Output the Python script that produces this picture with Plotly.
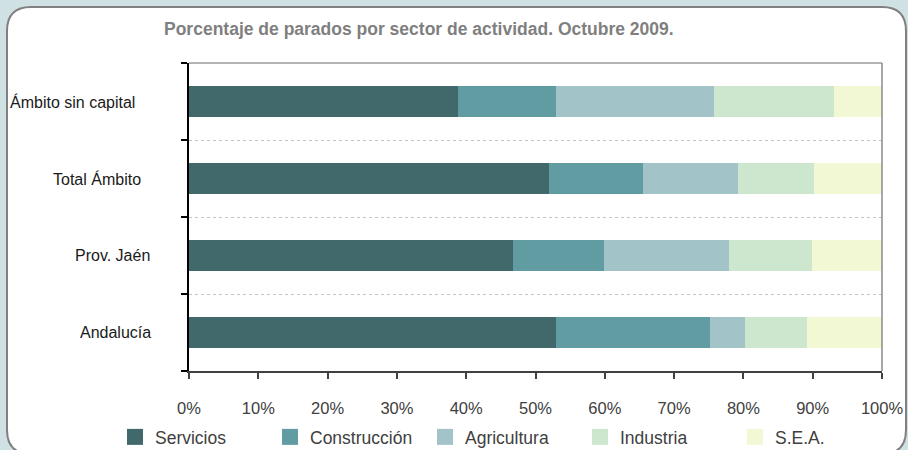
import plotly.graph_objects as go

categories = ["Andalucía", "Prov. Jaén", "Total Ámbito", "Ámbito sin capital"]
series_names = ["Servicios", "Construcción", "Agricultura", "Industria", "S.E.A."]
servicios = [53.0, 46.8, 51.9, 38.8]
construccion = [22.2, 13.1, 13.6, 14.2]
agricultura = [5.0, 18.0, 13.7, 22.8]
industria = [9.0, 12.0, 11.0, 17.3]
sea = [10.8, 10.1, 9.8, 6.9]
x_ticks = [0, 10, 20, 30, 40, 50, 60, 70, 80, 90, 100]
x_tick_labels = ["0%", "10%", "20%", "30%", "40%", "50%", "60%", "70%", "80%", "90%", "100%"]

colors = ["#41696C", "#619CA3", "#A2C4C8", "#CDE6CE", "#F2F8D4"]
series_values = [servicios, construccion, agricultura, industria, sea]

W, H = 908, 450
ML, MR, MT, MB = 189, 26, 63, 79
PW, PH = W - ML - MR, H - MT - MB

def px(x):
    return (x - ML) / PW

def py(y):
    return (H - MB - y) / PH

FONT = "Liberation Sans, Arial, sans-serif"

fig = go.Figure()
for name, vals, col in zip(series_names, series_values, colors):
    fig.add_trace(go.Bar(
        y=categories, x=vals, name=name, orientation="h",
        marker=dict(color=col, line=dict(width=0)),
        hoverinfo="x+y+name", legendgroup=name, showlegend=False,
    ))
# legend entries with larger square keys
for name, col in zip(series_names, colors):
    fig.add_trace(go.Scatter(
        x=[None], y=[None], mode="markers", name=name, legendgroup=name,
        marker=dict(symbol="square", size=16, color=col, line=dict(width=0)),
        showlegend=True, hoverinfo="skip",
    ))

# panel with rounded corners
r = 24
L, T, R, B = 7, 7, 906, 454
path = (
    f"M {px(L)},{py(T + r)} "
    f"Q {px(L)},{py(T)} {px(L + r)},{py(T)} "
    f"L {px(R - r)},{py(T)} "
    f"Q {px(R)},{py(T)} {px(R)},{py(T + r)} "
    f"L {px(R)},{py(B - r)} "
    f"Q {px(R)},{py(B)} {px(R - r)},{py(B)} "
    f"L {px(L + r)},{py(B)} "
    f"Q {px(L)},{py(B)} {px(L)},{py(B - r)} Z"
)
shapes = [
    dict(type="path", path=path, xref="paper", yref="paper",
         fillcolor="white", line=dict(color="#808080", width=2), layer="below"),
    dict(type="line", xref="paper", yref="paper", x0=0, x1=1, y0=1, y1=1,
         line=dict(color="#9a9a9a", width=1.5)),
    dict(type="line", xref="paper", yref="paper", x0=1, x1=1, y0=0, y1=1,
         line=dict(color="#8a8a8a", width=1.5)),
]

label_right_px = [153, 152, 143, 137]
annotations = [
    dict(text=c, xref="paper", yref="y", x=px(xr), y=c, xanchor="right",
         yanchor="middle", showarrow=False,
         font=dict(family=FONT, size=16, color="#1a1a1a"))
    for c, xr in zip(categories, label_right_px)
]
annotations.append(dict(
    text="<b>Porcentaje de parados por sector de actividad. Octubre 2009.</b>",
    xref="paper", yref="paper", x=px(419), y=py(29), xanchor="center",
    yanchor="middle", showarrow=False,
    font=dict(family=FONT, size=17.5, color="#7f7f7f")))

fig.update_layout(
    width=W, height=H,
    margin=dict(l=ML, r=MR, t=MT, b=MB, autoexpand=False),
    barmode="stack", barnorm="percent", bargap=0.6,
    paper_bgcolor="#D0E1E4", plot_bgcolor="rgba(0,0,0,0)",
    shapes=shapes, annotations=annotations,
    showlegend=True,
    legend=dict(orientation="h", x=px(115), y=py(437), xanchor="left",
                yanchor="middle", entrywidth=110, entrywidthmode="pixels",
                font=dict(family=FONT, size=17.5, color="#404040"),
                bgcolor="rgba(0,0,0,0)", traceorder="normal"),
    xaxis=dict(range=[0, 100], tickmode="array", tickvals=x_ticks,
               ticktext=x_tick_labels,
               showgrid=False, zeroline=False,
               showline=True, linecolor="#404040", linewidth=1.5,
               ticks="outside", ticklen=6, tickcolor="#404040", tickwidth=1.5,
               ticklabelstandoff=15,
               tickfont=dict(family=FONT, size=16.5, color="#404040"),
               fixedrange=True),
    yaxis=dict(type="category", categoryorder="array", categoryarray=categories,
               tickson="boundaries", showticklabels=False,
               showgrid=True, gridcolor="#c4c4c4", griddash="dot", gridwidth=1,
               showline=True, linecolor="#000000", linewidth=2,
               ticks="outside", ticklen=6, tickcolor="#000000", tickwidth=1.5,
               zeroline=False, fixedrange=True),
)

fig.write_html(
    "out.html",
    config={"displayModeBar": False},
    post_script="document.body.style.margin='0';document.body.style.overflow='hidden';document.body.style.background='#D0E1E4';",
)
